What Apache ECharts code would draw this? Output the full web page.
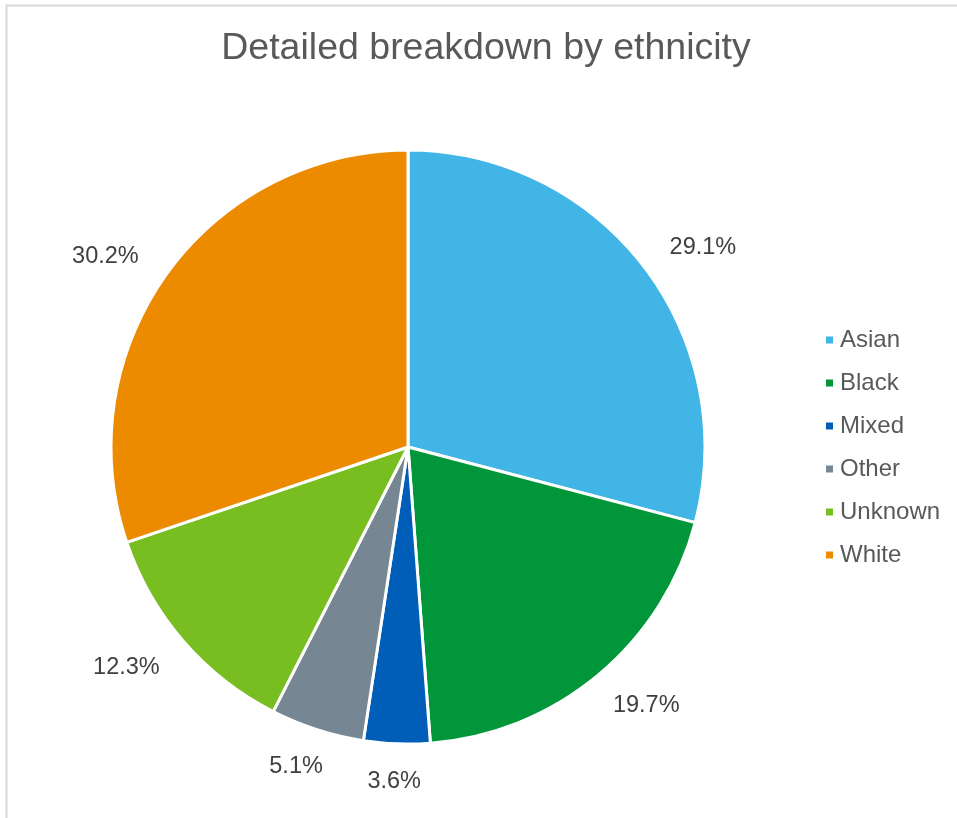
<!DOCTYPE html>
<html>
<head>
<meta charset="utf-8">
<script src="https://cdn.jsdelivr.net/npm/echarts@6/dist/echarts.min.js"></script>
<style>
html,body{margin:0;padding:0;background:#fff;}
#c{width:957px;height:818px;}
</style>
</head>
<body>
<div id="c"></div>
<script>
const categories = ['Asian', 'Black', 'Mixed', 'Other', 'Unknown', 'White'];
const values = [29.1, 19.7, 3.6, 5.1, 12.3, 30.2];
const colors = ['#41B6E6', '#009639', '#005EB8', '#768692', '#78BE20', '#ED8B00'];
const titleText = 'Detailed breakdown by ethnicity';

const CX = 408, CY = 447, R = 297;
const total = values.reduce((a, b) => a + b, 0);
function midDir(i) {
  let before = 0;
  for (let k = 0; k < i; k++) before += values[k];
  const frac = (before + values[i] / 2) / total;
  const th = frac * 2 * Math.PI; // clockwise from top
  return [Math.sin(th), -Math.cos(th)];
}

const chart = echarts.init(document.getElementById('c'), null, {renderer: 'canvas'});
const pieData = categories.map((n, i) => ({name: n, value: values[i], itemStyle: {color: colors[i]}}));

const option = {
  backgroundColor: '#fff',
  animation: false,
  title: {
    text: titleText,
    left: 481,
    textAlign: 'center',
    top: 25,
    textStyle: {fontFamily: 'Liberation Sans', fontSize: 37.5, fontWeight: 'normal', color: '#595959'}
  },
  legend: {
    orient: 'vertical',
    left: 819,
    top: 323,
    itemWidth: 9,
    itemHeight: 9,
    itemGap: 19,
    icon: 'rect',
    data: categories,
    textStyle: {fontFamily: 'Liberation Sans', fontSize: 24, color: '#595959', padding: [0, 0, 0, 1]}
  },
  graphic: [{
    type: 'polyline',
    shape: {points: [[6.5, 830], [6.5, 5.5], [970, 5.5]]},
    style: {stroke: '#d9d9d9', lineWidth: 2, fill: null},
    silent: true
  }],
  series: [{
    type: 'pie',
    center: [CX, CY],
    radius: [0, R],
    startAngle: 90,
    clockwise: true,
    data: pieData,
    label: {
      show: true,
      position: 'inside',
      formatter: p => p.value.toFixed(1) + '%',
      fontFamily: 'Liberation Sans',
      fontSize: 23.5,
      color: '#404040'
    },
    labelLine: {show: false},
    labelLayout: function (params) {
      const u = midDir(params.dataIndex);
      const w = params.labelRect.width;
      return {
        x: CX + u[0] * (R + 42 + w / 2),
        y: CY + u[1] * (R + 35) + 3,
        align: 'center',
        verticalAlign: 'middle'
      };
    },
    itemStyle: {borderColor: '#fff', borderWidth: 3},
    emphasis: {disabled: true},
    silent: true
  }]
};
chart.setOption(option);
</script>
</body>
</html>
